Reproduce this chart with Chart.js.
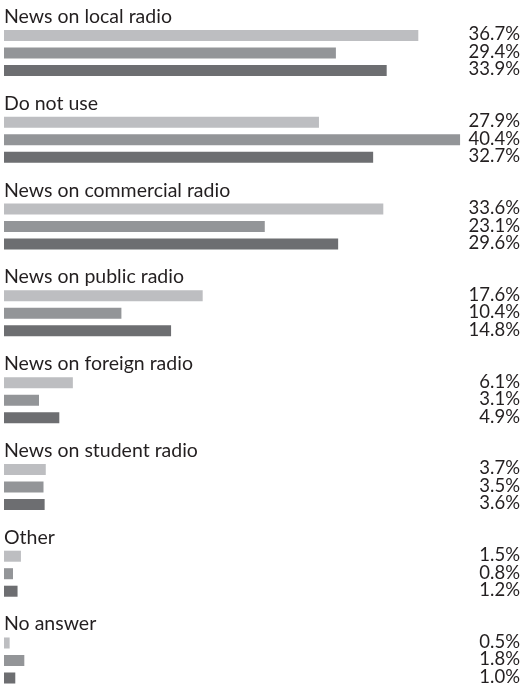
<!DOCTYPE html>
<html>
<head>
<meta charset="utf-8">
<script src="https://cdn.jsdelivr.net/npm/chart.js@4"></script>
<style>
  body { margin: 0; background: #fff; }
  #wrap { width: 523px; height: 686px; position: relative; }
</style>
</head>
<body>
<div id="wrap"><canvas id="radio"></canvas></div>
<script>
//Categorias
const categorias = [
    "News on local radio",
    "Do not use",
    "News on commercial radio",
    "News on public radio",
    "News on foreign radio",
    "News on student radio",
    "Other",
    "No answer"
]

//Valores (%) de cada serie
const serieA = [36.7, 27.9, 33.6, 17.6, 6.1, 3.7, 1.5, 0.5]
const serieB = [29.4, 40.4, 23.1, 10.4, 3.1, 3.5, 0.8, 1.8]
const serieC = [33.9, 32.7, 29.6, 14.8, 4.9, 3.6, 1.2, 1.0]

const colores = ['#bdbec1', '#939598', '#6d6e71']
const fuente = 'Lato, "Open Sans", sans-serif'

//Titulo arriba de cada grupo y porcentaje a la derecha de cada barra
const etiquetas = {
    id: 'etiquetas',
    afterDatasetsDraw(chart) {
        const ctx = chart.ctx
        ctx.save()
        ctx.fillStyle = '#231f20'

        //titulos
        const primera = chart.getDatasetMeta(0)
        ctx.font = '19.5px ' + fuente
        ctx.textAlign = 'left'
        ctx.textBaseline = 'alphabetic'
        primera.data.forEach((bar, i) => {
            const top = bar.y - bar.height / 2
            ctx.fillText(chart.data.labels[i], 4, top - 7)
        })

        //porcentajes
        ctx.font = '18.5px ' + fuente
        ctx.textAlign = 'right'
        ctx.textBaseline = 'middle'
        chart.data.datasets.forEach((ds, d) => {
            chart.getDatasetMeta(d).data.forEach((bar, i) => {
                ctx.fillText(ds.data[i].toFixed(1) + '%', 520, bar.y - 1)
            })
        })
        ctx.restore()
    }
}

const data = {
    labels: categorias,
    datasets: [serieA, serieB, serieC].map((serie, i) => ({
        data: serie,
        backgroundColor: colores[i],
        categoryPercentage: 0.605,
        barPercentage: 0.63,
        clip: false
    }))
}

const config = {
    type: 'bar',
    data: data,
    options: {
        indexAxis: 'y',
        responsive: true,
        maintainAspectRatio: false,
        animation: false,
        layout: {
            padding: { top: 53, bottom: 25.5, left: 4, right: 11 }
        },
        scales: {
            x: { display: false, min: 0, max: 45 },
            y: { display: false, offset: false }
        },
        plugins: {
            legend: { display: false },
            tooltip: { enabled: false }
        }
    },
    plugins: [etiquetas]
}

const graph = new Chart(document.getElementById('radio'), config)
</script>
</body>
</html>
